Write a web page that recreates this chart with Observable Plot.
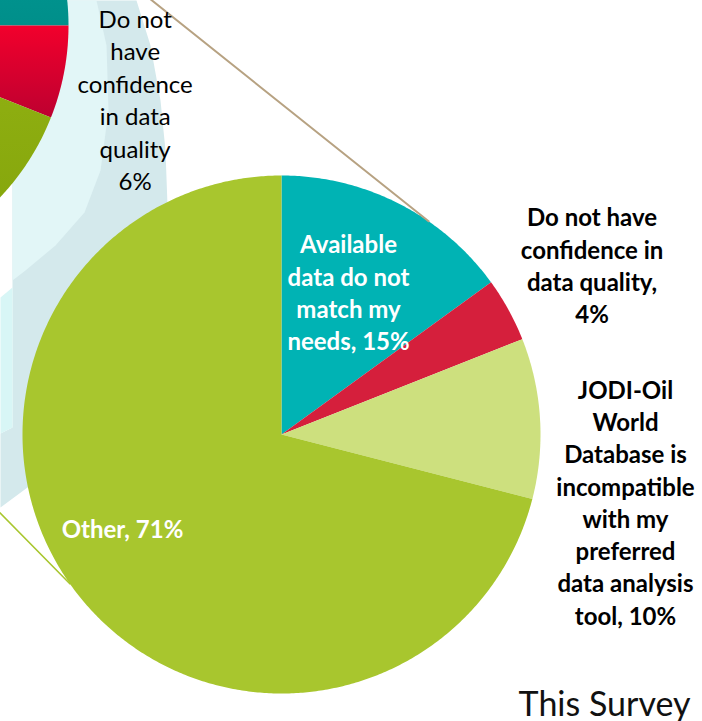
<!DOCTYPE html>
<html>
<head>
<meta charset="utf-8">
<script src="https://cdn.jsdelivr.net/npm/d3@7"></script>
<script src="https://cdn.jsdelivr.net/npm/@observablehq/plot@0.6"></script>
<style>
html,body{margin:0;padding:0;background:#fff;}
#chart svg{display:block;}
</style>
</head>
<body>
<div id="chart"></div>
<script>
// ---------- data ----------
const categories = [
  "Available data do not match my needs",
  "Do not have confidence in data quality",
  "JODI-Oil World Database is incompatible with my preferred data analysis tool",
  "Other"
];
const shares = [15, 4, 10, 71];
const labels = [
  "Available\ndata do not\nmatch my\nneeds, 15%",
  "Do not have\nconfidence in\ndata quality,\n4%",
  "JODI-Oil\nWorld\nDatabase is\nincompatible\nwith my\npreferred\ndata analysis\ntool, 10%",
  "Other, 71%"
];
const prevCategories = ["Available data do not match my needs", "Do not have confidence in data quality", "Other"];
const prevShares = [25, 6, 69];
const prevLabel = "Do not\nhave\nconfidence\nin data\nquality\n6%";
const caption = "This Survey";

// ---------- layout & style ----------
const W = 702, H = 721;
const BIG = {cx: 281, cy: 434, r: 259};
const SMALL = {cx: -182, cy: 25, r: 250};
const sliceColors = ["#00b3b4", "#d51f3c", "#cde07e", "#a8c62e"];
const labelColors = ["#fff", "#000", "#000", "#fff"];
const labelPolar = [[25.1, 0.61], [61.3, 1.367], [101.0, 1.353], [239.7, 0.711]]; // [deg, radius factor]
const prevLabelPolar = [103.0, 1.30];
const smallFills = ["url(#gTeal)", "url(#gRed)", "url(#gGreen)"];
const connectors = [
  {angle: 34.6, dir: [-273, -218], len: 420, color: "#b7a282", width: 2},
  {angle: 234.8, dir: [-70, -71], len: 200, color: "#a8c62e", width: 1.6}
];
const FONT = "Lato, 'Open Sans', sans-serif";
const rad = d => d * Math.PI / 180;

// decorative translucent band between the two pies
const bandDark = [[12,0],[136,0],[150,45],[160,100],[165,150],[167,205],[281,434],[27,487],[0,507],[0,433],[12,427]];
const bandLight = [[12,0],[96,0],[106,45],[108,110],[100,170],[84,212],[55,245],[25,270],[12,280]];
const bandLeft = [[0,297],[12,287],[12,427],[0,433]];

// ---------- geometry helpers ----------
function polar(c, a, f = 1) { return {x: c.cx + c.r * f * Math.sin(a), y: c.cy - c.r * f * Math.cos(a)}; }
function wedge(c, a0, a1) {
  const pts = [{x: c.cx, y: c.cy}];
  const n = Math.max(2, Math.ceil((a1 - a0) / (Math.PI / 360)));
  for (let i = 0; i <= n; i++) pts.push(polar(c, a0 + (a1 - a0) * i / n));
  pts.push({x: c.cx, y: c.cy});
  return pts;
}
const toPts = arr => arr.map(([x, y]) => ({x, y}));

const pie = d3.pie().sort(null).value(d => d);
const bigArcs = pie(shares);
const smallArcs = pie(prevShares);

// defs (gradients / blur) as a render-function mark
function defsMark() {
  const ns = "http://www.w3.org/2000/svg";
  const defs = document.createElementNS(ns, "defs");
  const grads = [
    ["gTeal", "#00a8a3", "#008f8a"],
    ["gRed", "#f2002c", "#bd0030"],
    ["gGreen", "#a3c11c", "#82a30a"]
  ];
  for (const [id, c0, c1] of grads) {
    const g = document.createElementNS(ns, "linearGradient");
    g.setAttribute("id", id); g.setAttribute("x1", "0"); g.setAttribute("y1", "0");
    g.setAttribute("x2", "0"); g.setAttribute("y2", "1");
    for (const [o, c] of [["0", c0], ["1", c1]]) {
      const s = document.createElementNS(ns, "stop");
      s.setAttribute("offset", o); s.setAttribute("stop-color", c);
      g.appendChild(s);
    }
    defs.appendChild(g);
  }
  const f = document.createElementNS(ns, "filter");
  f.setAttribute("id", "blur"); f.setAttribute("x", "-20%"); f.setAttribute("y", "-20%");
  f.setAttribute("width", "140%"); f.setAttribute("height", "140%");
  const b = document.createElementNS(ns, "feGaussianBlur");
  b.setAttribute("stdDeviation", "3");
  f.appendChild(b);
  defs.appendChild(f);
  return defs;
}

const marks = [defsMark];

// band
marks.push(Plot.line(toPts(bandDark), {x: "x", y: "y", fill: "#d4e9ec", stroke: "none"}));
marks.push(Plot.line(toPts(bandLight), {x: "x", y: "y", fill: "#e2f6f7", stroke: "none"}));
marks.push(Plot.line(toPts(bandLeft), {x: "x", y: "y", fill: "#d8f6f6", stroke: "none"}));

// small (previous) pie with soft shadow
const shadowPts = wedge({cx: SMALL.cx + 3, cy: SMALL.cy + 4, r: SMALL.r + 2}, 0, 2 * Math.PI);
marks.push(Plot.line(shadowPts, {x: "x", y: "y", fill: "#000", fillOpacity: 0.35, stroke: "none", ariaLabel: "shadow"}));
smallArcs.forEach((a, i) => {
  marks.push(Plot.line(wedge(SMALL, a.startAngle, a.endAngle), {x: "x", y: "y", fill: smallFills[i], stroke: "none", title: () => prevCategories[i]}));
});

// big pie
bigArcs.forEach((a, i) => {
  marks.push(Plot.line(wedge(BIG, a.startAngle, a.endAngle), {x: "x", y: "y", fill: sliceColors[i], stroke: "none", title: () => categories[i]}));
});

// connector lines
connectors.forEach(c => {
  const p0 = polar(BIG, rad(c.angle));
  const n = Math.hypot(c.dir[0], c.dir[1]);
  const p1 = {x: p0.x + c.dir[0] / n * c.len, y: p0.y + c.dir[1] / n * c.len};
  marks.push(Plot.line([p1, p0], {x: "x", y: "y", stroke: c.color, strokeWidth: c.width}));
});

// labels
const labelData = labels.map((t, i) => ({t, ...polar(BIG, rad(labelPolar[i][0]), labelPolar[i][1]), c: labelColors[i]}));
marks.push(Plot.text(labelData, {x: "x", y: "y", text: "t", fill: "c", fontSize: 24, fontWeight: "bold", fontFamily: FONT, lineHeight: 1.345, textAnchor: "middle"}));
const pl = polar(SMALL, rad(prevLabelPolar[0]), prevLabelPolar[1]);
marks.push(Plot.text([{t: prevLabel, ...pl}], {x: "x", y: "y", text: "t", fill: "#000", fontSize: 24, fontFamily: FONT, lineHeight: 1.35, textAnchor: "middle"}));
marks.push(Plot.text([caption], {frameAnchor: "bottom-right", text: d => d, dx: -12, dy: -6, fontSize: 34, fontFamily: FONT, fill: "#111"}));

const svg = Plot.plot({
  width: W, height: H,
  margin: 0,
  x: {domain: [0, W], range: [0, W], axis: null},
  y: {domain: [0, H], range: [0, H], axis: null},
  style: {background: "#fff", overflow: "hidden"},
  marks
});
d3.select(svg).selectAll('[aria-label="shadow"]').attr("filter", "url(#blur)");
document.getElementById("chart").appendChild(svg);
</script>
</body>
</html>
